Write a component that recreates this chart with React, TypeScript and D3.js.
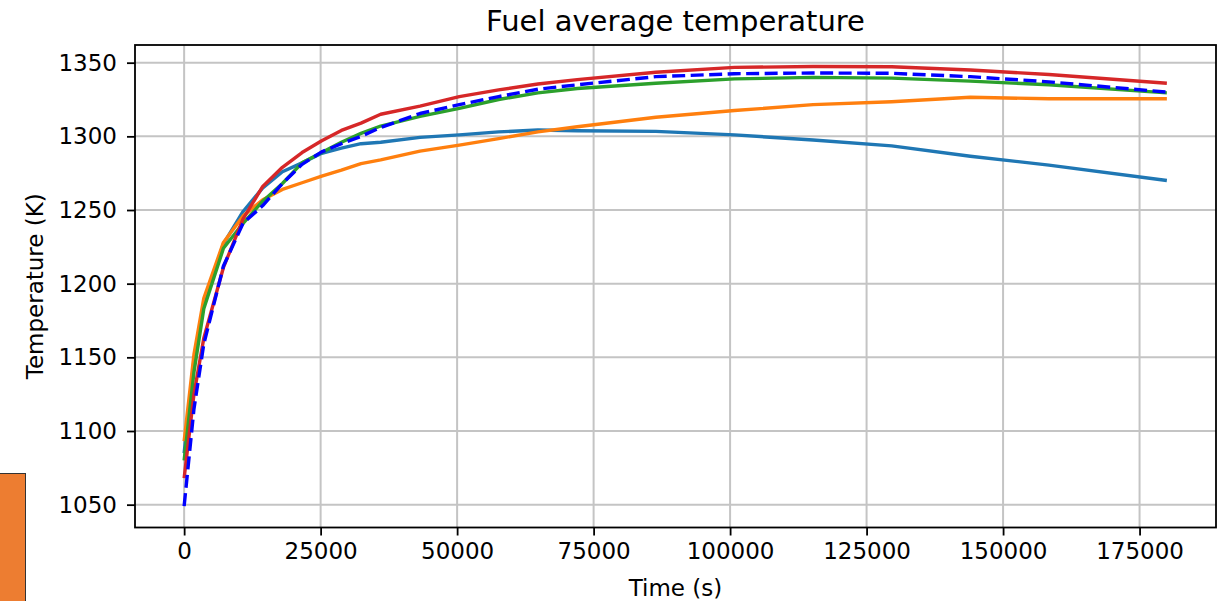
import React, { useEffect, useRef } from 'react'
import * as d3 from 'd3'

// time in seconds
const times = [0, 1800, 3600, 7200, 10800, 14400, 18000, 21600, 25200, 28800, 32400, 36000, 43200, 50400, 57600, 64800, 72000, 86400, 100800, 115200, 129600, 144000, 158400, 180000]

const seriesBlue = [1085, 1148, 1186, 1227, 1249, 1265, 1276, 1282, 1288.5, 1292, 1295, 1296, 1299.3, 1301, 1303, 1304.3, 1303.8, 1303.4, 1301, 1297.5, 1293.5, 1286.5, 1280.5, 1270]
const seriesOrange = [1093, 1152, 1190, 1228, 1246, 1257, 1264, 1268.5, 1273, 1277, 1281.5, 1284, 1290, 1294, 1298.5, 1303, 1306.5, 1313, 1317.5, 1321.5, 1323.5, 1326.5, 1325.5, 1325.5]
const seriesGreen = [1080, 1140, 1183, 1224, 1241, 1256, 1268, 1282, 1289, 1296, 1302, 1307, 1313.5, 1319, 1325, 1329.5, 1332.5, 1336, 1339, 1340, 1339.5, 1337.5, 1335, 1329.5]
const seriesRed = [1068, 1125, 1163, 1211, 1244, 1266, 1279, 1289, 1297, 1304, 1309, 1315, 1320.5, 1327, 1331.5, 1335.5, 1338.5, 1343.5, 1346.8, 1347.4, 1347.2, 1345, 1342, 1336]
const seriesDashed = [1049, 1115, 1159, 1212, 1241, 1253, 1268, 1281, 1289.5, 1295, 1300, 1306, 1315.5, 1321.5, 1327, 1332, 1335, 1340.5, 1342.5, 1343, 1342.8, 1340.5, 1337, 1330]

const xTicks = [0, 25000, 50000, 75000, 100000, 125000, 150000, 175000]
const yTicks = [1050, 1100, 1150, 1200, 1250, 1300, 1350]

const lines = [
  { values: seriesBlue, color: '#1f77b4', dash: null },
  { values: seriesOrange, color: '#ff7f0e', dash: null },
  { values: seriesGreen, color: '#2ca02c', dash: null },
  { values: seriesRed, color: '#d62728', dash: null },
  { values: seriesDashed, color: '#0000ff', dash: '13,5.5' },
]

function App() {
  const svgRef = useRef<SVGSVGElement>(null)
  const W = 1228
  const H = 601
  const margin = { top: 45, right: 12, bottom: 73.5, left: 135 }
  const width = W - margin.left - margin.right
  const height = H - margin.top - margin.bottom
  const font = 'DejaVu Sans'

  useEffect(() => {
    const root = d3.select(svgRef.current)
    root.selectAll('*').remove()

    // stray orange box at the left edge of the screenshot
    root.append('rect')
      .attr('x', -1).attr('y', 473.5)
      .attr('width', 26.5).attr('height', 140)
      .attr('fill', '#ed7d31').attr('stroke', '#333').attr('stroke-width', 1)

    const svg = root.append('g')
      .attr('transform', `translate(${margin.left},${margin.top})`)

    const x = d3.scaleLinear().domain([-9000, 189000]).range([0, width])
    const y = d3.scaleLinear().domain([1034.5, 1362]).range([height, 0])

    // grid
    svg.append('g').selectAll('line.gx').data(xTicks).join('line')
      .attr('x1', d => x(d)).attr('x2', d => x(d))
      .attr('y1', 0).attr('y2', height)
      .attr('stroke', '#c4c4c4').attr('stroke-width', 2)
    svg.append('g').selectAll('line.gy').data(yTicks).join('line')
      .attr('x1', 0).attr('x2', width)
      .attr('y1', d => y(d)).attr('y2', d => y(d))
      .attr('stroke', '#c4c4c4').attr('stroke-width', 2)

    const line = d3.line<number>()
      .x((d, i) => x(times[i]))
      .y(d => y(d))

    lines.forEach(s => {
      const p = svg.append('path')
        .datum(s.values)
        .attr('fill', 'none')
        .attr('stroke', s.color)
        .attr('stroke-width', 3.4)
        .attr('stroke-linejoin', 'round')
        .attr('d', line)
      if (s.dash) p.attr('stroke-dasharray', s.dash)
    })

    const xAxis = svg.append('g')
      .attr('transform', `translate(0,${height})`)
      .call(d3.axisBottom(x).tickValues(xTicks).tickFormat(d3.format('d')).tickSize(8).tickPadding(7))
    const yAxis = svg.append('g')
      .call(d3.axisLeft(y).tickValues(yTicks).tickFormat(d3.format('d')).tickSize(8).tickPadding(10))

    ;[xAxis, yAxis].forEach(a => {
      a.select('.domain').remove()
      a.selectAll('line').attr('stroke', '#000').attr('stroke-width', 1.8)
      a.selectAll('text').attr('font-family', font).attr('font-size', 23).attr('fill', '#000')
    })

    // frame
    svg.append('rect')
      .attr('x', 0).attr('y', 0).attr('width', width).attr('height', height)
      .attr('fill', 'none').attr('stroke', '#000').attr('stroke-width', 1.8)

    svg.append('text')
      .attr('x', width / 2).attr('y', -14)
      .attr('text-anchor', 'middle')
      .attr('font-family', font).attr('font-size', 29)
      .text('Fuel average temperature')

    svg.append('text')
      .attr('x', width / 2).attr('y', height + 68)
      .attr('text-anchor', 'middle')
      .attr('font-family', font).attr('font-size', 23)
      .text('Time (s)')

    svg.append('text')
      .attr('transform', `translate(${43 - margin.left},${height / 2}) rotate(-90)`)
      .attr('text-anchor', 'middle')
      .attr('font-family', font).attr('font-size', 23)
      .text('Temperature (K)')
  }, [])

  return (
    <svg ref={svgRef} width={W} height={H}
      style={{ position: 'absolute', left: 0, top: 0, background: '#fff' }}></svg>
  )
}
export default App
